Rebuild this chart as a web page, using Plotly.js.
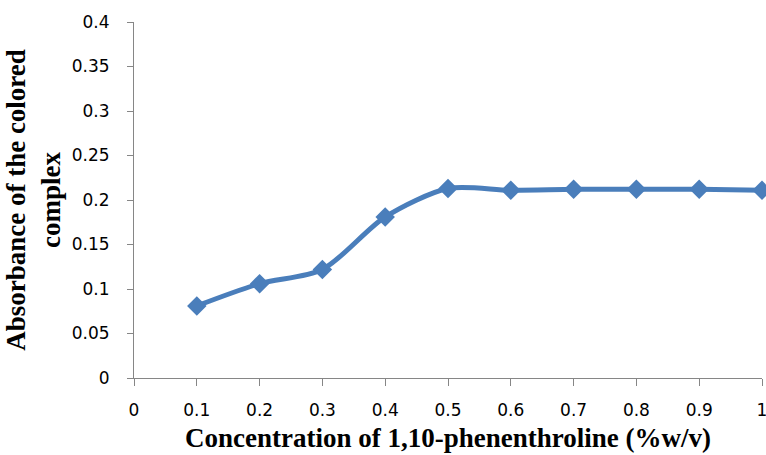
<!DOCTYPE html>
<html>
<head>
<meta charset="utf-8">
<script src="https://cdn.plot.ly/plotly-3.0.1.min.js"></script>
<style>html,body{margin:0;padding:0;background:#fff;}#chart{width:766px;height:455px;}</style>
</head>
<body>
<div id="chart"></div>
<script>
const concentration = [0.1, 0.2, 0.3, 0.4, 0.5, 0.6, 0.7, 0.8, 0.9, 1.0];
const absorbance = [0.081, 0.106, 0.122, 0.181, 0.213, 0.211, 0.212, 0.212, 0.212, 0.211];
const xTickVals = [0, 0.1, 0.2, 0.3, 0.4, 0.5, 0.6, 0.7, 0.8, 0.9, 1];
const xTickText = ["0", "0.1", "0.2", "0.3", "0.4", "0.5", "0.6", "0.7", "0.8", "0.9", "1"];
const yTickVals = [0, 0.05, 0.1, 0.15, 0.2, 0.25, 0.3, 0.35, 0.4];
const yTickText = ["0", "0.05", "0.1", "0.15", "0.2", "0.25", "0.3", "0.35", "0.4"];

const trace = {
  x: concentration,
  y: absorbance,
  type: 'scatter',
  mode: 'lines+markers',
  line: {color: '#4a7ebb', width: 5, shape: 'spline', smoothing: 0.8},
  marker: {symbol: 'diamond', size: 15, color: '#4a7ebb'},
  cliponaxis: false,
  hoverinfo: 'x+y'
};

const tickFont = {family: 'DejaVu Sans, sans-serif', size: 17, color: '#000'};
const titleFont = {family: 'Liberation Serif, Times New Roman, serif', size: 27, color: '#000', weight: 'bold'};
const layout = {
  width: 766, height: 455,
  margin: {l: 134, r: 4, t: 22, b: 77},
  paper_bgcolor: '#fff', plot_bgcolor: '#fff',
  showlegend: false,
  xaxis: {
    range: [0, 1], tickmode: 'array', tickvals: xTickVals, ticktext: xTickText,
    showgrid: false, zeroline: false, showline: true, linecolor: '#868686', linewidth: 1,
    ticks: 'outside', ticklen: 7, tickcolor: '#868686', tickfont: tickFont,
    ticklabelstandoff: 10, ticklabeloverflow: 'allow',
    title: {text: 'Concentration of 1,10-phenenthroline (%w/v)', standoff: 8, font: titleFont}
  },
  yaxis: {
    range: [0, 0.4], tickmode: 'array', tickvals: yTickVals, ticktext: yTickText,
    showgrid: false, zeroline: false, showline: true, linecolor: '#868686', linewidth: 1,
    ticks: 'outside', ticklen: 6, tickcolor: '#868686', tickfont: tickFont,
    ticklabelstandoff: 14, ticklabeloverflow: 'allow',
    title: {text: 'Absorbance of the colored<br>complex', standoff: 3, font: titleFont}
  }
};

Plotly.newPlot('chart', [trace], layout, {displayModeBar: false, staticPlot: true});
</script>
</body>
</html>
